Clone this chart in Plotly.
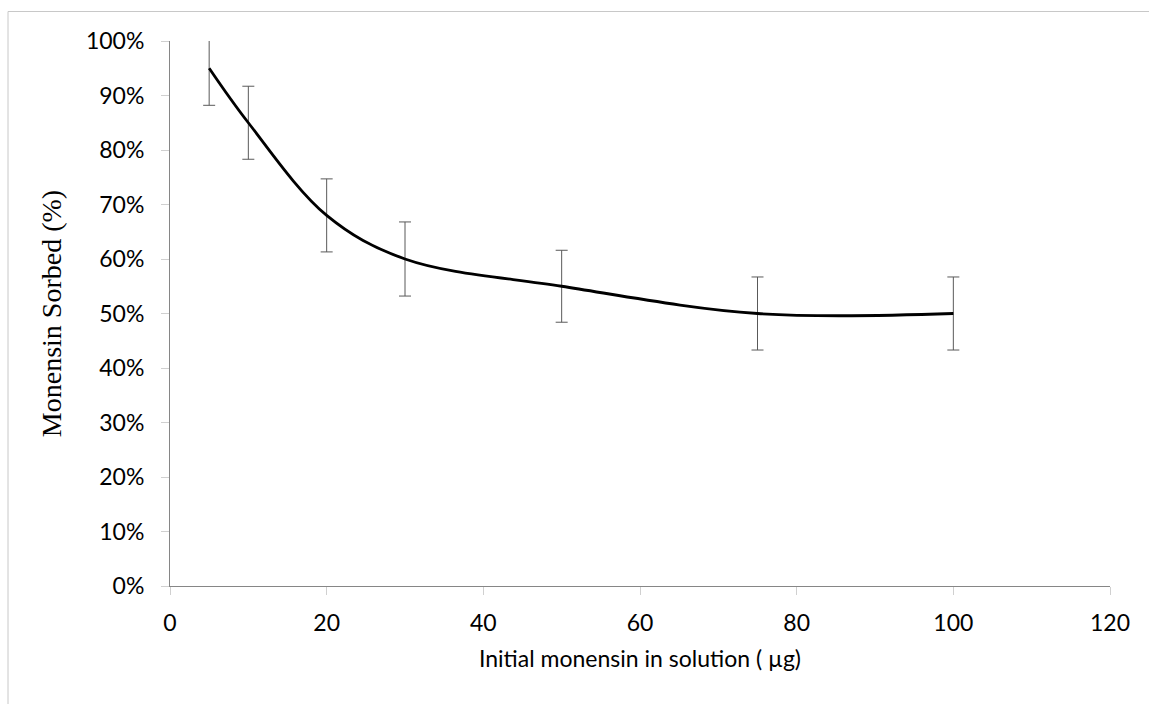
import plotly.graph_objects as go

# Data
initial_ug = [5, 10, 20, 30, 50, 75, 100]
sorbed_pct = [95, 85, 68, 60, 55, 50, 50]
sorbed_err = [6.8, 6.7, 6.7, 6.8, 6.6, 6.7, 6.7]

x_ticks = [0, 20, 40, 60, 80, 100, 120]
y_ticks = [0, 10, 20, 30, 40, 50, 60, 70, 80, 90, 100]

fig = go.Figure()
fig.add_trace(go.Scatter(
    x=initial_ug,
    y=sorbed_pct,
    mode="lines",
    line=dict(color="black", width=2.8, shape="spline", smoothing=1),
    error_y=dict(type="data", array=sorbed_err, visible=True,
                 color="#595959", thickness=1, width=6),
    showlegend=False,
))

W, H = 1149, 704
ml, mr, mt, mb = 170, 39, 41, 118
pw, ph = W - ml - mr, H - mt - mb

# outer light border of the chart area (like the Excel chart frame)
bx0 = (8 - ml) / pw
bx1 = (W + 2 - ml) / pw
by1 = (H - mb - 11.5) / ph
by0 = (H - mb - (H + 2)) / ph

fig.update_layout(
    width=W, height=H,
    margin=dict(l=ml, r=mr, t=mt, b=mb),
    paper_bgcolor="white",
    plot_bgcolor="white",
    font=dict(family="Lato", size=23, color="black"),
    shapes=[dict(type="rect", xref="paper", yref="paper",
                 x0=bx0, x1=bx1, y0=by0, y1=by1,
                 line=dict(color="#c8c8c8", width=1), layer="below")],
)

fig.update_xaxes(
    range=[0, 120], tickvals=x_ticks, ticktext=[str(v) for v in x_ticks],
    showgrid=False, zeroline=False,
    showline=True, linecolor="#868686", linewidth=1,
    ticks="outside", ticklen=8, tickcolor="#d0d0d0", tickwidth=1,
    ticklabelstandoff=8,
    tickfont=dict(family="Lato", size=23, color="black"),
    title=dict(text="Initial monensin in solution ( µg)",
               font=dict(family="Lato", size=23, color="black"), standoff=16),
)
fig.update_yaxes(
    range=[0, 100], tickvals=y_ticks, ticktext=[f"{v}%" for v in y_ticks],
    showgrid=False, zeroline=False,
    showline=True, linecolor="#868686", linewidth=1,
    ticks="outside", ticklen=8, tickcolor="#d0d0d0", tickwidth=1,
    ticklabelstandoff=12,
    tickfont=dict(family="Lato", size=23, color="black"),
    title=dict(text="Monensin Sorbed (%)",
               font=dict(family="Liberation Serif", size=28, color="black"), standoff=16),
)

fig.write_html("out.html")
